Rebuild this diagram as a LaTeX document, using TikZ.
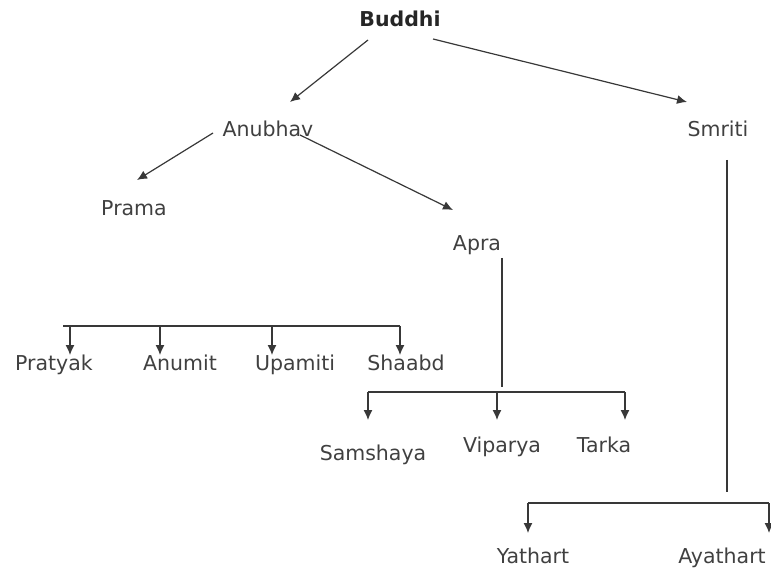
\documentclass[tikz,border=0pt]{standalone}
\usepackage{fontspec}
\setmainfont{DejaVu Sans}
\usepackage{xcolor}
\usetikzlibrary{arrows.meta}
\definecolor{labelgray}{HTML}{404040}
\definecolor{linkgray}{HTML}{383838}
\tikzset{
  term/.style={anchor=base, inner sep=0pt, text=labelgray, font=\fontsize{20.5}{24}\selectfont},
  link/.style={draw=linkgray, line width=1.2pt}
}

\begin{document}
\begin{tikzpicture}[x=1pt, y=-1pt, >={Latex[length=10pt,width=9pt]}]
                \useasboundingbox (0,0) rectangle (771,569);
                % top levels
                \node [term, text=black!85] (buddhi) at (400,27) {\textbf{Buddhi}};
                \node [term] (anubhav) at (268,137) {Anubhav};
                \node [term] (smriti) at (718,137) {Smriti};
                \node [term] (prama) at (134,216) {Prama};
                \node [term] (apra) at (477,251) {Apra};
                % leaves
                \node [term] (pratyak) at (54,370) {Pratyak};
                \node [term] (anumit) at (180,370) {Anumit};
                \node [term] (upamiti) at (295,370) {Upamiti};
                \node [term] (shaabd) at (406,370) {Shaabd};
                \node [term] (samshaya) at (373,460) {Samshaya};
                \node [term] (viparya) at (502,452) {Viparya};
                \node [term] (tarka) at (604,452) {Tarka};
                \node [term] (yathart) at (533,563) {Yathart};
                \node [term] (ayathart) at (722,563) {Ayathart};
                % slanted arrows
                \draw [link, ->] ([shift={(-32,13)}]buddhi.base) to ([shift={(22,-35)}]anubhav.base);
                \draw [link, ->] ([shift={(33,12)}]buddhi.base) to ([shift={(-31,-35)}]smriti.base);
                \draw [link, ->] ([shift={(-55,-4)}]anubhav.base) to ([shift={(3,-36)}]prama.base);
                \draw [link, ->] ([shift={(32,-2)}]anubhav.base) to ([shift={(-24,-41)}]apra.base);
                % bars
                \coordinate (pramabar) at (63,326);
                \coordinate (aprabar) at (502,392);
                \coordinate (smritibar) at (727,503);
                \coordinate (p1) at ([shift={(16,-15)}]pratyak.base);
                \coordinate (p2) at ([shift={(-20,-15)}]anumit.base);
                \coordinate (p3) at ([shift={(-23,-15)}]upamiti.base);
                \coordinate (p4) at ([shift={(-6,-15)}]shaabd.base);
                \coordinate (a1) at ([shift={(-5,-40)}]samshaya.base);
                \coordinate (a2) at ([shift={(-5,-32)}]viparya.base);
                \coordinate (a3) at ([shift={(21,-32)}]tarka.base);
                \coordinate (s1) at ([shift={(-5,-30)}]yathart.base);
                \coordinate (s2) at ([shift={(47,-30)}]ayathart.base);
                \draw [link] (pramabar) -- (pramabar -| p4);
                \draw [link, ->] (p1 |- pramabar) -- (p1);
                \draw [link, ->] (p2 |- pramabar) -- (p2);
                \draw [link, ->] (p3 |- pramabar) -- (p3);
                \draw [link, ->] (p4 |- pramabar) -- (p4);
                \draw [link] ([shift={(25,7)}]apra.base) -- ([yshift=5pt]aprabar);
                \draw [link] (a1 |- aprabar) -- (a3 |- aprabar);
                \draw [link, ->] (a1 |- aprabar) -- (a1);
                \draw [link, ->] (a2 |- aprabar) -- (a2);
                \draw [link, ->] (a3 |- aprabar) -- (a3);
                \draw [link] ([shift={(9,23)}]smriti.base) -- ([yshift=11pt]smritibar);
                \draw [link] (s1 |- smritibar) -- (s2 |- smritibar);
                \draw [link, ->] (s1 |- smritibar) -- (s1);
                \draw [link, ->] (s2 |- smritibar) -- (s2);
            \end{tikzpicture}
\end{document}
